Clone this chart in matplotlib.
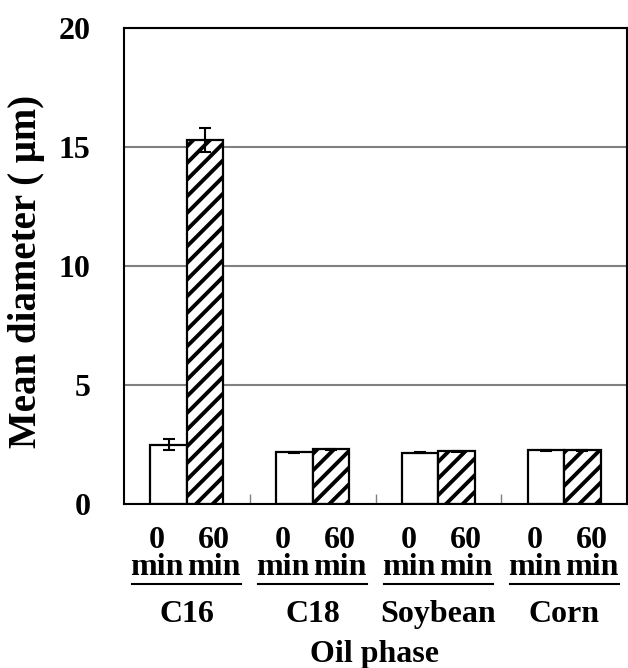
import numpy as np
import matplotlib
matplotlib.use("Agg")
import matplotlib.pyplot as plt
from matplotlib.transforms import blended_transform_factory

# mean droplet diameter before and after 60 min, per oil phase
oils = ["C16", "C18", "Soybean", "Corn"]
times = ["0", "60"]
mean_0 = [2.5, 2.17, 2.15, 2.26]
mean_60 = [15.3, 2.29, 2.21, 2.26]
err_0 = [0.25, 0.03, 0.02, 0.02]
err_60 = [0.5, 0.02, 0.03, 0.02]

plt.rcParams["font.family"] = ["Liberation Serif", "DejaVu Serif"]
plt.rcParams["font.weight"] = "bold"
plt.rcParams["hatch.linewidth"] = 2.8
fs = 23

W, H = 628, 668
fig = plt.figure(figsize=(W / 100, H / 100), dpi=100)
ax = fig.add_axes([124 / W, 1 - 504 / H, (627 - 124) / W, (504 - 28) / H])

x = np.arange(len(oils))
bw = 0.29
ax.bar(x - bw / 2, mean_0, bw, color="white", edgecolor="black", linewidth=1.6, zorder=2)
ax.bar(x + bw / 2, mean_60, bw, color="white", edgecolor="black", linewidth=1.6,
       hatch="//", zorder=2)
ax.errorbar(x - bw / 2, mean_0, yerr=err_0, fmt="none", ecolor="black",
            elinewidth=1.5, capsize=4.5, capthick=1.5, zorder=3)
ax.errorbar(x + bw / 2, mean_60, yerr=err_60, fmt="none", ecolor="black",
            elinewidth=1.5, capsize=4.5, capthick=1.5, zorder=3)

ax.set_xlim(-0.5, len(oils) - 0.5)
ax.set_ylim(0, 20)
ax.set_yticks([0, 5, 10, 15, 20])
ax.set_yticklabels(["0", "5", "10", "15", "20"], fontsize=fs, fontweight="bold")
ax.tick_params(axis="y", length=0, pad=24)
ax.set_xticks(x[:-1] + 0.5)
ax.set_xticklabels([])
ax.tick_params(axis="x", direction="in", length=7, width=1, color="#808080")

ax.yaxis.grid(True, color="#808080", linewidth=1.5)
ax.set_axisbelow(True)
for s in ax.spines.values():
    s.set_color("black")
    s.set_linewidth(1.5)

# grouped category labels under the axis
tr = blended_transform_factory(ax.transData, fig.transFigure)
offsets = [-0.237, 0.217]
for i, name in enumerate(oils):
    for t, off in zip(times, offsets):
        ax.text(i + off, 1 - 548 / H, t, transform=tr, ha="center", va="baseline",
                fontsize=fs, fontweight="bold")
        ax.text(i + off, 1 - 575 / H, "min", transform=tr, ha="center", va="baseline",
                fontsize=fs, fontweight="bold")
    ax.plot([i - 0.433, i + 0.433], [1 - 584 / H] * 2, transform=tr,
            color="black", linewidth=1.5, clip_on=False)
    ax.text(i, 1 - 622 / H, name, transform=tr, ha="center", va="baseline",
            fontsize=fs, fontweight="bold")

fig.text(375 / W, 1 - 662 / H, "Oil phase", ha="center", va="baseline",
         fontsize=fs, fontweight="bold")
fig.text(27 / W, 1 - 271 / H, "Mean diameter ( μm)", rotation=90,
         ha="center", va="center", fontsize=28, fontweight="bold")

fig.savefig("out.png", dpi=100)
